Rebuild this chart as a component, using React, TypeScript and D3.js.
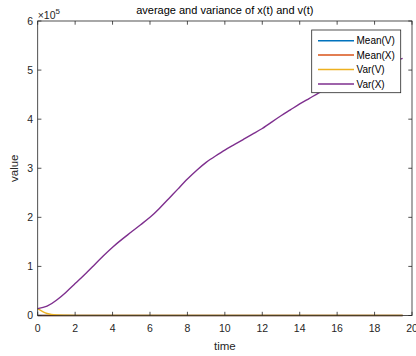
import React from "react";
import * as d3 from "d3";

// Simulation time samples
const time = [
  0, 0.5, 1, 1.5, 2, 2.5, 3, 3.5, 4, 4.5, 5, 5.5, 6, 6.5, 7, 7.5, 8, 8.5, 9, 9.5,
  10, 10.5, 11, 11.5, 12, 12.5, 13, 13.5, 14, 14.5, 15, 15.5, 16, 16.5, 17, 17.5, 18, 18.5, 19, 19.5,
];

// Ensemble statistics over time
const meanV = [
  0, 0, 0, 0, 0, 0, 0, 0, 0, 0, 0, 0, 0, 0, 0, 0, 0, 0, 0, 0,
  0, 0, 0, 0, 0, 0, 0, 0, 0, 0, 0, 0, 0, 0, 0, 0, 0, 0, 0, 0,
];
const meanX = [
  0, 0, 0, 0, 0, 0, 0, 0, 0, 0, 0, 0, 0, 0, 0, 0, 0, 0, 0, 0,
  0, 0, 0, 0, 0, 0, 0, 0, 0, 0, 0, 0, 0, 0, 0, 0, 0, 0, 0, 0,
];
const varV = [
  14000, 4000, 1000, 500, 300, 300, 300, 300, 300, 300, 300, 300, 300, 300, 300, 300, 300, 300, 300, 300,
  300, 300, 300, 300, 300, 300, 300, 300, 300, 300, 300, 300, 300, 300, 300, 300, 300, 300, 300, 300,
];
const varX = [
  14000, 19000, 31000, 47000, 65000, 83000, 102000, 121000, 139000, 155000,
  170000, 185000, 200000, 218000, 238000, 258000, 278000, 296000, 312000, 325000,
  337000, 348000, 359000, 370000, 381000, 394000, 407000, 419000, 431000, 442000,
  453000, 463000, 472000, 481000, 489000, 497000, 504000, 511000, 518000, 524000,
];

const seriesNames = ["Mean(V)", "Mean(X)", "Var(V)", "Var(X)"];
const seriesColors = ["#0072BD", "#D95319", "#EDB120", "#7E2F8E"];
const seriesValues = [meanV, meanX, varV, varX];

const xTicks = [0, 2, 4, 6, 8, 10, 12, 14, 16, 18, 20];
const yTicks = [0, 1, 2, 3, 4, 5, 6];
const yExponent = 5;

const W = 416;
const H = 356;
const left = 37.7;
const right = 412;
const top = 21;
const bottom = 315.5;
const axisColor = "#262626";
const font = "'Liberation Sans', Arial, Helvetica, sans-serif";

export default function App() {
  const x = d3.scaleLinear().domain([0, 20]).range([left, right]);
  const y = d3.scaleLinear().domain([0, 6 * 10 ** yExponent]).range([bottom, top]);
  const makeLine = (smooth: boolean) =>
    d3
      .line<number>()
      .x((_, i) => x(time[i]))
      .y((d) => y(d))
      .curve(smooth ? d3.curveNatural : d3.curveMonotoneX);

  const tickLen = 3.7;
  const legend = { x: 311.7, y: 30, w: 89, h: 62.7 };
  const rowY = [40.7, 55, 69.5, 84];

  return (
    <svg
      width={W}
      height={H}
      style={{ position: "fixed", left: 0, top: 0, background: "#fff" }}
      fontFamily={font}
    >
      <rect x={0} y={0} width={W} height={H} fill="#fff" />
      <rect x={left} y={top} width={right - left} height={bottom - top} fill="#fff" />

      {/* data lines */}
      <g fill="none" strokeWidth={1.4}>
        {seriesValues.map((vals, k) => (
          <path key={k} d={makeLine(k === 3)(vals) || ""} stroke={seriesColors[k]} />
        ))}
      </g>

      {/* axes box and ticks */}
      <g stroke={axisColor} strokeWidth={0.8} fill="none">
        <rect x={left} y={top} width={right - left} height={bottom - top} />
        {xTicks.map((t) => (
          <g key={"xt" + t}>
            <line x1={x(t)} x2={x(t)} y1={bottom} y2={bottom - tickLen} />
            <line x1={x(t)} x2={x(t)} y1={top} y2={top + tickLen} />
          </g>
        ))}
        {yTicks.map((t) => (
          <g key={"yt" + t}>
            <line x1={left} x2={left + tickLen} y1={y(t * 10 ** yExponent)} y2={y(t * 10 ** yExponent)} />
            <line x1={right} x2={right - tickLen} y1={y(t * 10 ** yExponent)} y2={y(t * 10 ** yExponent)} />
          </g>
        ))}
      </g>

      {/* tick labels */}
      <g fill={axisColor} fontSize={10.5}>
        {xTicks.map((t) => (
          <text key={"xl" + t} x={x(t)} y={bottom + 16.5} textAnchor="middle">
            {t}
          </text>
        ))}
        {yTicks.map((t) => (
          <text key={"yl" + t} x={left - 4.5} y={y(t * 10 ** yExponent) + 3.8} textAnchor="end">
            {t}
          </text>
        ))}
        <text x={left} y={18.5}>
          ×10
          <tspan dy={-4.5} fontSize={8}>
            {yExponent}
          </tspan>
        </text>
      </g>

      {/* title and axis labels */}
      <text x={(left + right) / 2} y={14} textAnchor="middle" fontSize={11} fill="#000">
        average and variance of x(t) and v(t)
      </text>
      <text x={(left + right) / 2} y={350} textAnchor="middle" fontSize={11.5} fill={axisColor}>
        time
      </text>
      <text
        transform={`translate(18, ${(top + bottom) / 2}) rotate(-90)`}
        textAnchor="middle"
        fontSize={11.5}
        fill={axisColor}
      >
        value
      </text>

      {/* legend */}
      <g>
        <rect x={legend.x} y={legend.y} width={legend.w} height={legend.h} fill="#fff" stroke={axisColor} strokeWidth={0.8} />
        {seriesNames.map((name, k) => (
          <g key={name}>
            <line x1={318} x2={354} y1={rowY[k]} y2={rowY[k]} stroke={seriesColors[k]} strokeWidth={1.4} />
            <text x={356.5} y={rowY[k] + 3.7} fontSize={10} fill="#000">
              {name}
            </text>
          </g>
        ))}
      </g>
    </svg>
  );
}
